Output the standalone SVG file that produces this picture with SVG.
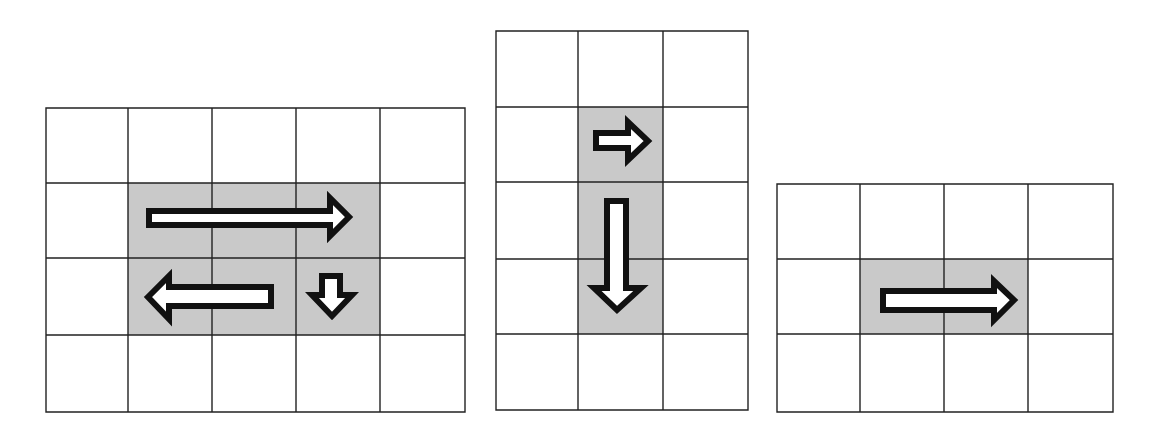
<svg xmlns="http://www.w3.org/2000/svg" width="1150" height="434" viewBox="0 0 1150 434">
<style>
.bg{fill:#ffffff}
.shade{fill:#c9c9c9}
.grid{fill:none;stroke:#222222;stroke-width:1.4}
.arrow{fill:#ffffff;stroke:#111111;stroke-width:6;stroke-linejoin:miter}
</style>
<rect class="bg" x="0" y="0" width="1150" height="434"/>
<g id="grid-left">
<rect class="shade" x="128" y="183" width="252" height="152"/>
<path class="grid" d="M46,108H465V412H46Z M46,183H465 M46,258H465 M46,335H465 M128,108V412 M212,108V412 M296,108V412 M380,108V412"/>
</g>
<g id="grid-middle">
<rect class="shade" x="578" y="107" width="85" height="227"/>
<path class="grid" d="M496,31H748V410H496Z M496,107H748 M496,182H748 M496,259H748 M496,334H748 M578,31V410 M663,31V410"/>
</g>
<g id="grid-right">
<rect class="shade" x="860" y="259" width="168" height="75"/>
<path class="grid" d="M777,184H1113V412H777Z M777,259H1113 M777,334H1113 M860,184V412 M944,184V412 M1028,184V412"/>
</g>
<g id="arrows">
<polygon class="arrow" points="149,211 330,211 330,198 349,217 330,236 330,225 149,225"/>
<polygon class="arrow" points="148,297 169,276 169,287 271,287 271,306 169,306 169,319"/>
<polygon class="arrow" points="322,276 340,276 340,295 352,295 332,316 312,295 322,295"/>
<polygon class="arrow" points="596,133 628,133 628,122 648,141 628,160 628,148 596,148"/>
<polygon class="arrow" points="607,201 626,201 626,288 641,288 617,310 594,288 607,288"/>
<polygon class="arrow" points="883,291 994,291 994,281 1014,300 994,320 994,310 883,310"/>
</g>
</svg>
